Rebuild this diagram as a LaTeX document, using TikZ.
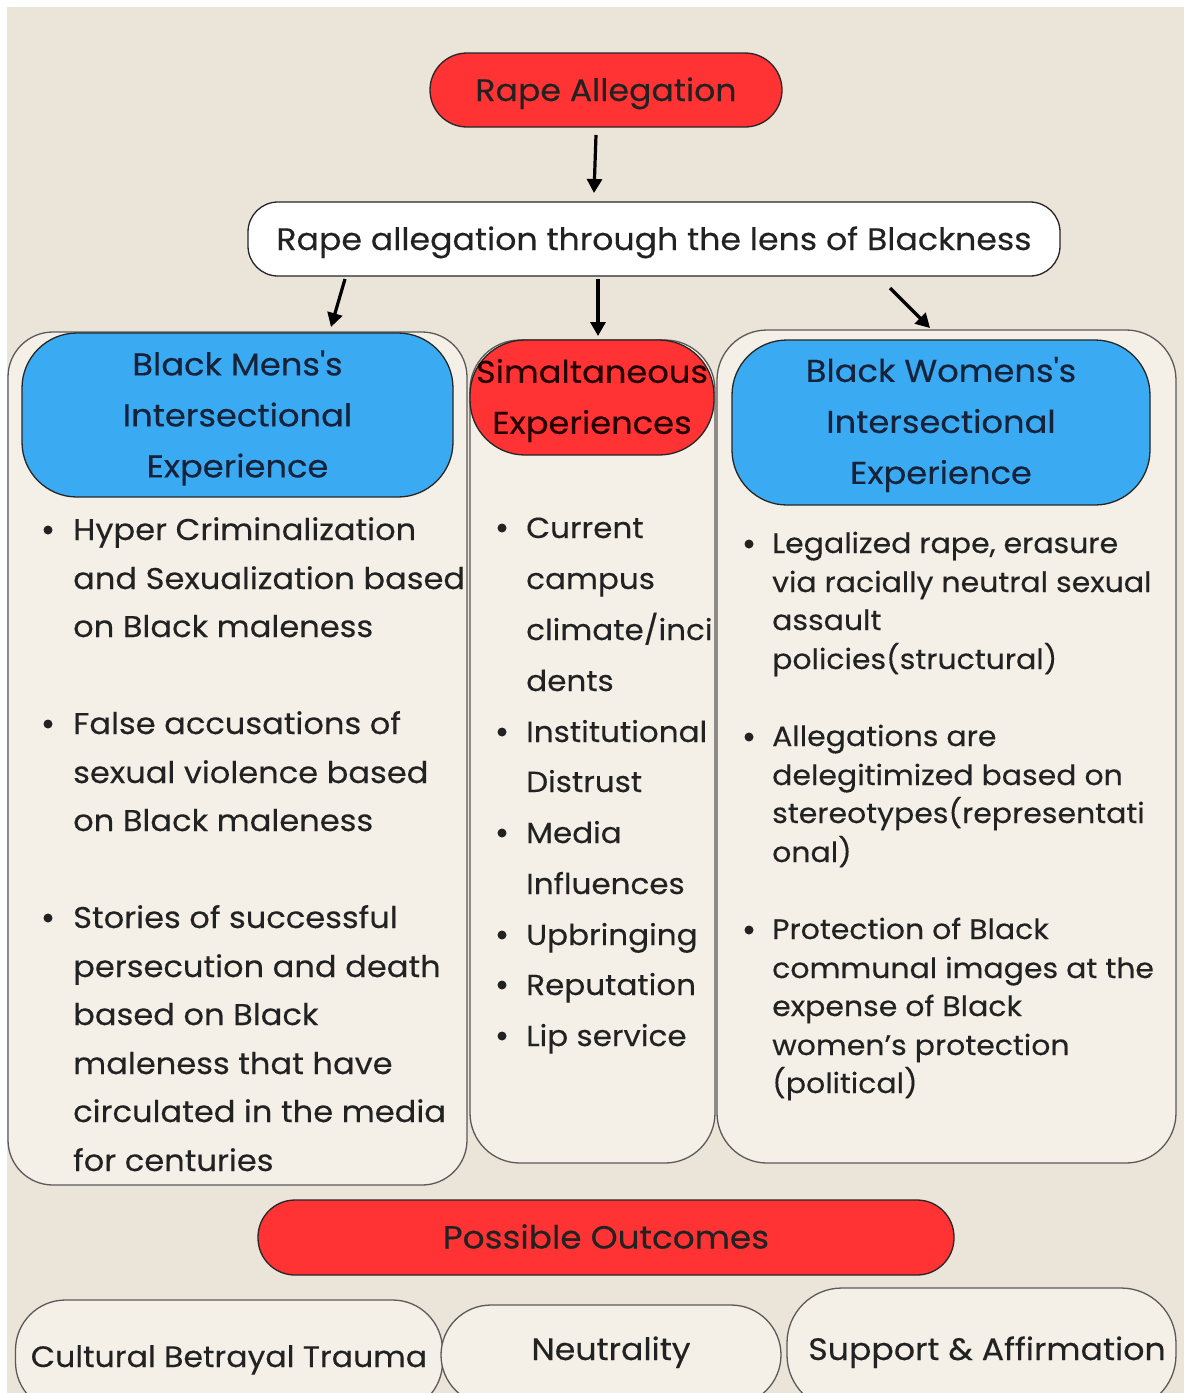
\documentclass[tikz,border=0pt]{standalone}
\usepackage{fontspec}
\setmainfont{Poppins}[FakeStretch=1.07, FakeBold=0.3]
\usetikzlibrary{arrows.meta}
\definecolor{bg}{HTML}{EBE4D8}
\definecolor{colfill}{HTML}{F4F0E7}
\definecolor{redc}{HTML}{FF3333}
\definecolor{bluec}{HTML}{3AABF3}
\definecolor{navy}{HTML}{16223A}
\definecolor{ink}{HTML}{222222}
\definecolor{edge}{HTML}{5A5A5A}
\begin{document}
\begin{tikzpicture}[x=1pt,y=-1pt,
  shp/.style={inner sep=0pt, outer sep=0pt, line width=1.3pt},
  colbox/.style={shp, draw=edge, fill=colfill},
  bluehead/.style={shp, draw=black!85, fill=bluec, rounded corners=55pt},
  redhead/.style={shp, draw=black!85, fill=redc, rounded corners=55pt},
  pill/.style={shp, draw=black!85, text=ink, font=\fontsize{31}{38}\selectfont, text height=22pt, text depth=0pt},
  headtxt/.style={inner sep=0pt, align=center, text=navy, font=\fontsize{31.5}{51}\selectfont},
  ltxt/.style={inner sep=0pt, anchor=base west, text=ink, font=\fontsize{30}{34}\selectfont},
  mtxt/.style={inner sep=0pt, anchor=base west, text=ink, font=\fontsize{29}{34}\selectfont},
  rtxt/.style={inner sep=0pt, anchor=base west, text=ink, font=\fontsize{28}{30}\selectfont},
  bul/.style={circle, fill=ink, inner sep=0pt, minimum size=9pt},
  arr/.style={line width=3.2pt, -{Triangle[length=14pt,width=15pt]}}
]
\fill[white] (0,0) rectangle (1184,1393);
\fill[bg] (7,7) rectangle (1184,1393);
\useasboundingbox (0,0) rectangle (1184,1393);

% top
\node[pill, fill=redc, rounded corners=37pt, minimum width=352pt, minimum height=74pt] (top) at (606,90) {Rape Allegation};
\node[pill, fill=white, rounded corners=30pt, minimum width=812pt, minimum height=74pt] (lens) at (654,239) {Rape allegation through the lens of Blackness};

% columns
\node[colbox, rounded corners=45pt, minimum width=459pt, minimum height=853pt] (lcol) at (237.5,758.5) {};
\node[colbox, rounded corners=50pt, minimum width=245pt, minimum height=823pt] (mcol) at (592.5,751.5) {};
\node[colbox, rounded corners=50pt, minimum width=459pt, minimum height=833pt] (rcol) at (946.5,746.5) {};

% headers
\node[bluehead, minimum width=431pt, minimum height=164pt] (lhead) at (237.5,415) {};
\node[redhead, minimum width=244pt, minimum height=115pt] (mhead) at (592,397.5) {};
\node[bluehead, minimum width=418pt, minimum height=165pt] (rhead) at (941,422.5) {};
\node[headtxt, yshift=-3pt] (lheadt) at (lhead.center) {Black Mens\textquotesingle s\\Intersectional\\Experience};
\node[headtxt, yshift=-3pt, text=black!85!red] (mheadt) at (mhead.center) {Simaltaneous\\Experiences};
\node[headtxt, yshift=-2pt] (rheadt) at (rhead.center) {Black Womens\textquotesingle s\\Intersectional\\Experience};

% arrows
\draw[arr] ([xshift=-10pt,yshift=-8pt]top.south) -- ([xshift=-60pt,yshift=9pt]lens.north);
\draw[arr] ([xshift=-309pt,yshift=-3pt]lens.south) -- ([xshift=93.5pt,yshift=6pt]lhead.north);
\draw[arr] ([xshift=-56pt,yshift=-3pt]lens.south) -- ([xshift=6pt,yshift=4pt]mhead.north);
\draw[arr] ([xshift=236pt,yshift=-12pt]lens.south) -- ([xshift=-11pt,yshift=12pt]rhead.north);

% left list
\foreach \t/\y [count=\i] in {Hyper Criminalization/540, and Sexualization based/589, on Black maleness/637,
  False accusations of/734, sexual violence based/783, on Black maleness/831,
  Stories of successful/928, persecution and death/977, based on Black/1025, maleness that have/1074,
  circulated in the media/1122, for centuries/1171}
  \node[ltxt] (L\i) at (73,\y) {\t};
\foreach \y [count=\i] in {540,734,928} \node[bul] (Lb\i) at (48,\y-10) {};

% middle list
\foreach \t/\y [count=\i] in {Current/538, campus/589, {climate/inci}/640, dents/691, Institutional/742, Distrust/792,
  Media/843, Influences/894, Upbringing/945, Reputation/995, Lip service/1046}
  \node[mtxt] (M\i) at (526,\y) {\t};
\foreach \y [count=\i] in {538,742,843,945,995,1046} \node[bul] (Mb\i) at (502,\y-10) {};

% right list
\foreach \t/\y [count=\i] in {{Legalized rape, erasure}/553, via racially neutral sexual/592, assault/630, policies(structural)/669,
  Allegations are/746, delegitimized based on/785, stereotypes(representati/823, onal)/862,
  Protection of Black/939, communal images at the/978, expense of Black/1016, women’s protection/1055, (political)/1093}
  \node[rtxt] (R\i) at (772,\y) {\t};
\foreach \y [count=\i] in {553,746,939} \node[bul] (Rb\i) at (749,\y-9) {};

% outcomes
\node[pill, fill=redc, rounded corners=37pt, minimum width=696pt, minimum height=75pt, font=\fontsize{32}{38}\selectfont] (outc) at (606,1237.5) {Possible Outcomes};
\node[pill, fill=colfill, draw=edge, rounded corners=50pt, minimum width=427pt, minimum height=112pt, font=\fontsize{29.5}{38}\selectfont] (cbt) at (229,1356) {Cultural Betrayal Trauma};
\node[pill, fill=colfill, draw=edge, rounded corners=50pt, minimum width=340pt, minimum height=100pt] (neu) at (611,1355) {};
\node[pill, fill=colfill, draw=edge, rounded corners=55pt, minimum width=389pt, minimum height=122pt] (sup) at (981.5,1349) {};
\node[pill, anchor=center, draw=none, minimum width=0pt, minimum height=0pt] (neut) at (611,1349) {Neutrality};
\node[pill, anchor=center, draw=none, minimum width=0pt, minimum height=0pt] (supt) at (987,1349) {Support \& Affirmation};
\end{tikzpicture}
\end{document}
